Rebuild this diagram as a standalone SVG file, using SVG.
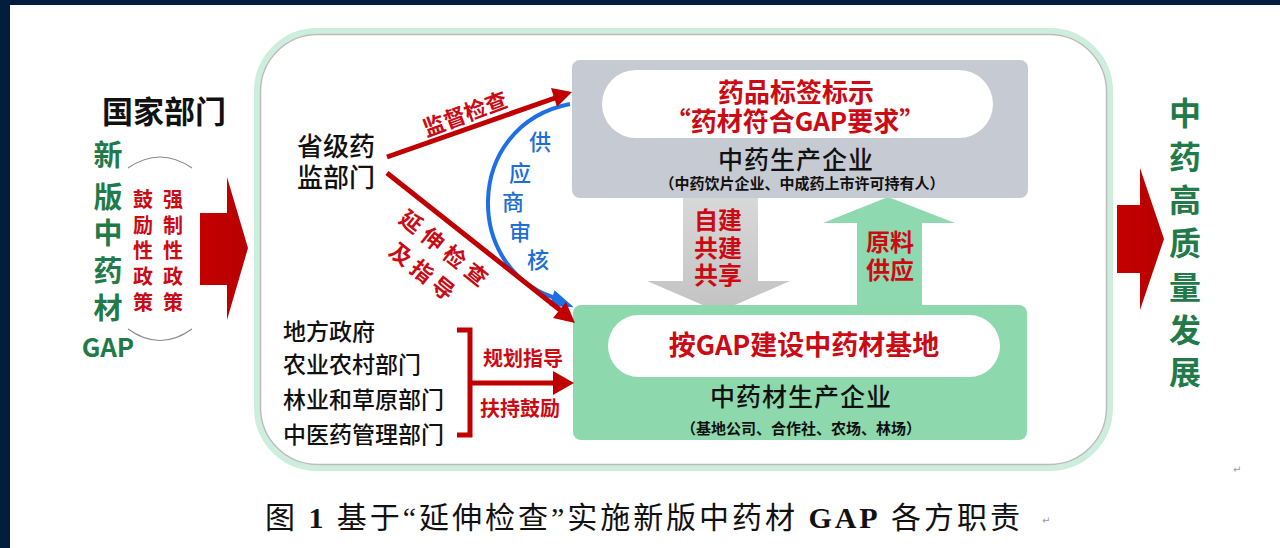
<svg xmlns="http://www.w3.org/2000/svg" width="1280" height="548" viewBox="0 0 1280 548">
<defs>
<style>
.cjk{font-family:"Noto Sans CJK SC","Noto Sans",sans-serif;}
.red{fill:#cc0a14;font-weight:bold;}
.grn{fill:#227a48;font-weight:bold;}
.blk{fill:#111;}
.blue{fill:#1d6fd6;font-weight:500;}
.rl{stroke:#c00000;stroke-width:5;fill:none;}
</style>
<linearGradient id="gArrow" x1="0" y1="0" x2="0" y2="1">
<stop offset="0" stop-color="#d8d8d8"/><stop offset="1" stop-color="#c2c2c2"/>
</linearGradient>
<linearGradient id="rArrow" x1="0" y1="0" x2="1" y2="0">
<stop offset="0" stop-color="#c40000"/><stop offset="1" stop-color="#b80000"/>
</linearGradient>
</defs>
<rect x="0" y="0" width="1280" height="548" fill="#021d3d"/>
<rect x="10" y="5" width="1270" height="543" fill="#ffffff"/>

<g id="container">
<rect x="257" y="31" width="853" height="437" rx="60" fill="none" stroke="#cdeedc" stroke-width="6"/>
<rect x="260.5" y="34.5" width="846" height="430" rx="57" fill="#fff" stroke="#bcbcbc" stroke-width="1.5"/>
</g>

<g id="national" class="cjk">
<text x="102" y="123" font-size="31" font-weight="bold" class="blk">国家部门</text>
<g class="grn" font-size="29" text-anchor="middle">
<text x="108" y="166">新</text>
<text x="108" y="208">版</text>
<text x="108" y="244">中</text>
<text x="108" y="282">药</text>
<text x="108" y="319">材</text>
<text x="108" y="357" font-size="26">GAP</text>
</g>
<path d="M128,168 Q160,146 192,168" fill="none" stroke="#8a8a8a" stroke-width="1.2"/>
<path d="M128,329 Q160,352 192,329" fill="none" stroke="#8a8a8a" stroke-width="1.2"/>
<g class="red" font-size="20" text-anchor="middle">
<text x="143" y="207">鼓</text><text x="143" y="233">励</text><text x="143" y="258">性</text><text x="143" y="284">政</text><text x="143" y="310">策</text>
<text x="173" y="207">强</text><text x="173" y="233">制</text><text x="173" y="258">性</text><text x="173" y="284">政</text><text x="173" y="310">策</text>
</g>
</g>

<g id="bigArrowLeft">
<polygon points="200,213 227,213 227,177 248,248 227,320 227,285 200,285" fill="url(#rArrow)"/>
</g>
<g id="bigArrowRight">
<polygon points="1117,205 1140,205 1140,168 1164,239 1140,310 1140,273 1117,273" fill="url(#rArrow)"/>
</g>

<g id="outcome" class="cjk grn" font-size="32" text-anchor="middle">
<text x="1185" y="125">中</text>
<text x="1185" y="169">药</text>
<text x="1185" y="212">高</text>
<text x="1185" y="255">质</text>
<text x="1185" y="299">量</text>
<text x="1185" y="342">发</text>
<text x="1185" y="384">展</text>
</g>

<g id="province" class="cjk blk" font-size="26" font-weight="500">
<text x="297" y="156">省级药</text>
<text x="297" y="187">监部门</text>
</g>

<g id="localDepts" class="cjk blk" font-size="23" font-weight="500">
<text x="283" y="340">地方政府</text>
<text x="283" y="373">农业农村部门</text>
<text x="283" y="408">林业和草原部门</text>
<text x="283" y="443">中医药管理部门</text>
</g>

<g id="midArrows">
<polygon points="683,198 758,198 758,281 790,281 719,312 647,281 683,281" fill="url(#gArrow)"/>
<polygon points="857,306 857,223 823,223 888,197 955,223 922,223 922,306" fill="#8ed9b0"/>
<g class="cjk red" font-size="24" text-anchor="middle">
<text x="718" y="229">自建</text>
<text x="718" y="257">共建</text>
<text x="718" y="284">共享</text>
<text x="890" y="251">原料</text>
<text x="890" y="279">供应</text>
</g>
</g>

<g id="manufacturer">
<rect x="572" y="60" width="456" height="138" rx="8" fill="#c6cad2"/>
<rect x="602" y="70" width="391" height="68" rx="34" fill="#ffffff"/>
<g class="cjk" text-anchor="middle">
<text x="796" y="102" font-size="26" class="red">药品标签标示</text>
<text x="795" y="131" font-size="26" class="red">“药材符合GAP要求”</text>
<text x="796" y="169" font-size="25" class="blk" font-weight="500" letter-spacing="1">中药生产企业</text>
<text x="802" y="189" font-size="15" class="blk" font-weight="bold">（中药饮片企业、中成药上市许可持有人）</text>
</g>
</g>

<g id="grower">
<rect x="573" y="305" width="454" height="135" rx="8" fill="#8ed8ae"/>
<rect x="608" y="315" width="392" height="62" rx="31" fill="#ffffff"/>
<g class="cjk" text-anchor="middle">
<text x="804" y="355" font-size="27" class="red">按GAP建设中药材基地</text>
<text x="801" y="406" font-size="25" class="blk" font-weight="500" letter-spacing="1">中药材生产企业</text>
<text x="801" y="434" font-size="15" class="blk" font-weight="bold">（基地公司、合作社、农场、林场）</text>
</g>
</g>

<g id="connectors">
<path d="M570,104 C462,125 462,275 562,300" fill="none" stroke="#1d6fe6" stroke-width="4"/>
<polygon points="555,292 571,306 551,305" fill="#1d6fe6" stroke="#1d6fe6" stroke-width="2"/>
<line x1="387" y1="157" x2="555" y2="98" class="rl"/>
<polygon points="551,88 572,92 557,107" fill="#c00000"/>
<line x1="387" y1="173" x2="560" y2="310" class="rl"/>
<polygon points="553,318 575,323 566,302" fill="#c00000"/>
<path d="M457,330 H470 V435 H457" class="rl" stroke-width="4"/>
<line x1="470" y1="383" x2="556" y2="383" class="rl" stroke-width="4"/>
<polygon points="553,371 574,383 553,395" fill="#c00000"/>
</g>

<g id="connectorLabels" class="cjk">
<text transform="translate(465,114) rotate(-20.5)" text-anchor="middle" font-size="22" class="red" dy="8">监督检查</text>
<text transform="translate(446,250) rotate(39)" text-anchor="middle" font-size="22" class="red" dy="8" letter-spacing="6">延伸检查</text>
<text transform="translate(424,273) rotate(39)" text-anchor="middle" font-size="22" class="red" dy="8" letter-spacing="5">及指导</text>
<g class="blue" font-size="22" text-anchor="middle">
<text x="540" y="150">供</text>
<text x="520" y="181">应</text>
<text x="513" y="210">商</text>
<text x="520" y="240">审</text>
<text x="538" y="268">核</text>
</g>
<text x="523" y="366" text-anchor="middle" font-size="20" class="red">规划指导</text>
<text x="520" y="416" text-anchor="middle" font-size="20" class="red">扶持鼓励</text>
</g>

<g id="caption">
<text x="265" y="528" font-size="30" fill="#111" font-family="'Liberation Serif','Noto Sans CJK SC',serif" textLength="755" lengthAdjust="spacing">图 <tspan font-weight="bold">1</tspan> 基于“延伸检查”实施新版中药材 <tspan font-weight="bold">GAP</tspan> 各方职责</text>
<text x="1042" y="524" font-size="10" fill="#9a9a9a" font-family="'DejaVu Sans',sans-serif">↵</text>
<text x="1233" y="473" font-size="10" fill="#9a9a9a" font-family="'DejaVu Sans',sans-serif">↵</text>
</g>
</svg>
